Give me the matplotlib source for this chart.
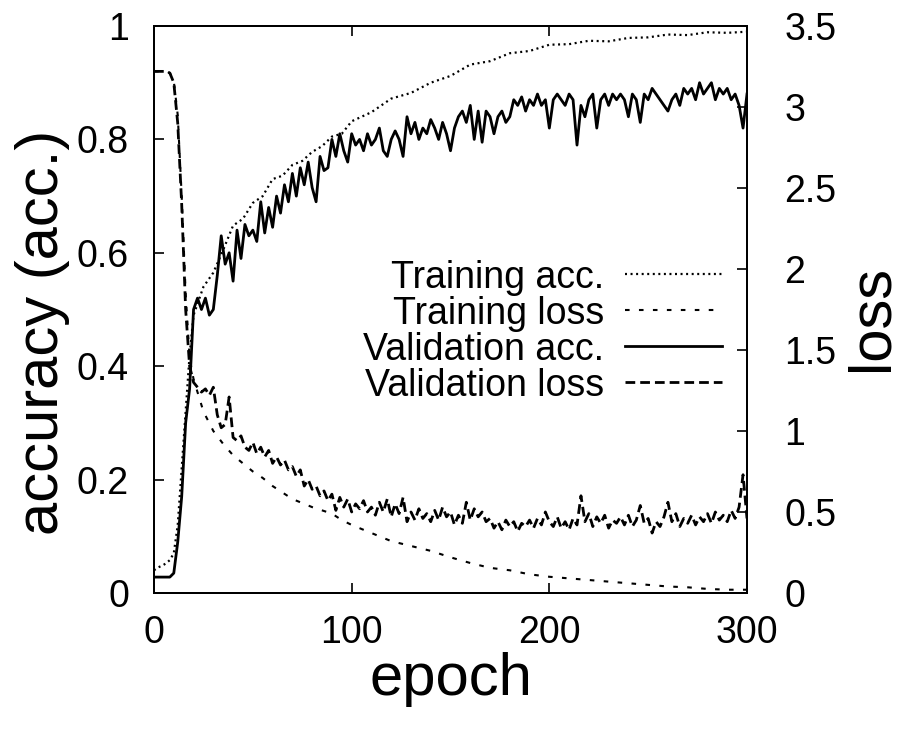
import numpy as np
from matplotlib import pyplot as plt

plt.rcParams['font.family'] = ['Liberation Sans', 'DejaVu Sans']

# validation curves, read every 2 epochs
val_epochs = np.arange(0, 301, 2)
val_acc = [
    0.028, 0.028, 0.028, 0.028, 0.028, 0.035, 0.09, 0.17, 0.30, 0.36,
    0.50, 0.52, 0.50, 0.52, 0.49, 0.50, 0.56, 0.63, 0.58, 0.60,
    0.55, 0.64, 0.59, 0.65, 0.63, 0.64, 0.62, 0.69, 0.635, 0.68,
    0.645, 0.70, 0.67, 0.72, 0.69, 0.74, 0.70, 0.75, 0.72, 0.76,
    0.715, 0.69, 0.77, 0.745, 0.75, 0.80, 0.77, 0.81, 0.78, 0.76,
    0.81, 0.79, 0.80, 0.78, 0.81, 0.79, 0.80, 0.82, 0.78, 0.77,
    0.80, 0.815, 0.80, 0.77, 0.84, 0.81, 0.83, 0.80, 0.82, 0.81,
    0.835, 0.82, 0.80, 0.83, 0.81, 0.78, 0.82, 0.84, 0.85, 0.83,
    0.86, 0.80, 0.85, 0.795, 0.85, 0.84, 0.81, 0.84, 0.85, 0.83,
    0.84, 0.87, 0.86, 0.875, 0.85, 0.87, 0.86, 0.88, 0.86, 0.87,
    0.82, 0.87, 0.88, 0.87, 0.86, 0.88, 0.87, 0.79, 0.86, 0.84,
    0.87, 0.88, 0.82, 0.87, 0.88, 0.86, 0.88, 0.87, 0.88, 0.87,
    0.84, 0.88, 0.87, 0.83, 0.88, 0.87, 0.89, 0.88, 0.87, 0.86,
    0.85, 0.87, 0.88, 0.86, 0.89, 0.88, 0.89, 0.87, 0.90, 0.88,
    0.89, 0.90, 0.87, 0.89, 0.88, 0.89, 0.87, 0.88, 0.86, 0.82,
    0.88,
]
val_loss = [
    3.22, 3.22, 3.22, 3.22, 3.21, 3.15, 2.90, 2.40, 1.75, 1.40,
    1.30, 1.27, 1.24, 1.26, 1.22, 1.27, 1.10, 1.02, 1.04, 1.21,
    0.96, 0.94, 0.97, 0.90, 0.88, 0.93, 0.86, 0.90, 0.84, 0.88,
    0.80, 0.84, 0.79, 0.82, 0.76, 0.78, 0.72, 0.76, 0.66, 0.70,
    0.64, 0.66, 0.60, 0.63, 0.57, 0.61, 0.51, 0.59, 0.53, 0.58,
    0.50, 0.55, 0.52, 0.57, 0.50, 0.53, 0.48, 0.56, 0.50, 0.58,
    0.47, 0.55, 0.49, 0.59, 0.44, 0.50, 0.45, 0.52, 0.46, 0.49,
    0.44, 0.51, 0.45, 0.53, 0.47, 0.50, 0.42, 0.48, 0.43, 0.56,
    0.45, 0.52, 0.47, 0.50, 0.44, 0.46, 0.40, 0.44, 0.39, 0.45,
    0.41, 0.44, 0.38, 0.43, 0.41, 0.45, 0.40, 0.46, 0.42, 0.50,
    0.44, 0.41, 0.47, 0.40, 0.44, 0.39, 0.46, 0.42, 0.60, 0.44,
    0.49, 0.41, 0.47, 0.43, 0.48, 0.40, 0.45, 0.43, 0.47, 0.42,
    0.48, 0.41, 0.45, 0.54, 0.43, 0.46, 0.37, 0.44, 0.41, 0.47,
    0.56, 0.44, 0.49, 0.41, 0.46, 0.43, 0.48, 0.42, 0.47, 0.44,
    0.49, 0.43, 0.50, 0.45, 0.48, 0.44, 0.51, 0.46, 0.53, 0.73,
    0.46,
]

# training curves (smoother)
train_epochs = [0, 2, 4, 6, 8, 10, 12, 14, 16, 18, 20, 25, 30, 35, 40, 45, 50,
                55, 60, 65, 70, 75, 80, 85, 90, 95, 100, 110, 120, 130, 140,
                150, 160, 170, 180, 190, 200, 210, 220, 230, 240, 250, 260,
                270, 280, 290, 300]
train_acc = [0.04, 0.045, 0.048, 0.052, 0.058, 0.07, 0.12, 0.22, 0.32, 0.42,
             0.49, 0.54, 0.565, 0.605, 0.648, 0.66, 0.688, 0.70, 0.73,
             0.736, 0.755, 0.762, 0.778, 0.788, 0.805, 0.81, 0.832, 0.848,
             0.872, 0.882, 0.90, 0.912, 0.932, 0.938, 0.952, 0.956, 0.967,
             0.968, 0.974, 0.973, 0.979, 0.98, 0.985, 0.984, 0.989, 0.988,
             0.99]
train_loss = [3.22, 3.22, 3.22, 3.22, 3.21, 3.16, 2.95, 2.45, 1.85, 1.45,
              1.32, 1.12, 1.0, 0.92, 0.85, 0.80, 0.75, 0.71, 0.66, 0.62,
              0.58, 0.555, 0.53, 0.51, 0.49, 0.45, 0.42, 0.37, 0.32, 0.29,
              0.26, 0.22, 0.185, 0.155, 0.14, 0.115, 0.10, 0.09, 0.08, 0.07,
              0.06, 0.05, 0.04, 0.035, 0.025, 0.02, 0.02]

fig = plt.figure(figsize=(9.06, 7.29), dpi=100)
ax = fig.add_axes([0.170, 0.1866, 0.6545, 0.7777])
ax2 = ax.twinx()

l1, = ax.plot(train_epochs, train_acc, color='black', lw=1.6,
              linestyle=(0, (0.9, 1.6)), label='Training acc.')
l2, = ax2.plot(train_epochs, train_loss, color='black', lw=1.5,
               linestyle=(0, (2.2, 4.5)), label='Training loss')
l3, = ax.plot(val_epochs, val_acc, color='black', lw=2.0,
              label='Validation acc.')
l4, = ax2.plot(val_epochs, val_loss, color='black', lw=2.0,
               linestyle=(0, (3.5, 1.8)), label='Validation loss')

ax.set_xlim(0, 300)
ax.set_ylim(0, 1)
ax2.set_ylim(0, 3.5)
ax.set_xticks([0, 100, 200, 300])
ax.set_yticks([0, 0.2, 0.4, 0.6, 0.8, 1])
ax.set_yticklabels(['0', '0.2', '0.4', '0.6', '0.8', '1'])
ax2.set_yticks([0, 0.5, 1, 1.5, 2, 2.5, 3, 3.5])
ax2.set_yticklabels(['0', '0.5', '1', '1.5', '2', '2.5', '3', '3.5'])

ax.tick_params(axis='x', direction='in', length=7, width=1.2, top=True,
               labelsize=27, pad=16)
ax.tick_params(axis='y', direction='in', length=7, width=1.2, right=False,
               labelsize=27, pad=18)
ax2.tick_params(axis='y', direction='in', length=7, width=1.2,
                labelsize=27, pad=27)
for a in (ax, ax2):
    for s in a.spines.values():
        s.set_linewidth(1.4)

ax.set_xlabel('epoch', fontsize=43)
ax.xaxis.set_label_coords(0.5, -0.105)
ax.set_ylabel('accuracy (acc.)', fontsize=43)
ax.yaxis.set_label_coords(-0.142, 0.459)
ax2.set_ylabel('loss', fontsize=43)
ax2.yaxis.set_label_coords(1.165, 0.485)

ax2.legend([l1, l2, l3, l4], [l.get_label() for l in (l1, l2, l3, l4)],
           loc='center right', bbox_to_anchor=(0.958, 0.461),
           frameon=False, markerfirst=False, fontsize=27,
           handlelength=2.6, handletextpad=0.55, labelspacing=0.0,
           borderpad=0, borderaxespad=0)

fig.savefig('out.png', dpi=100)
